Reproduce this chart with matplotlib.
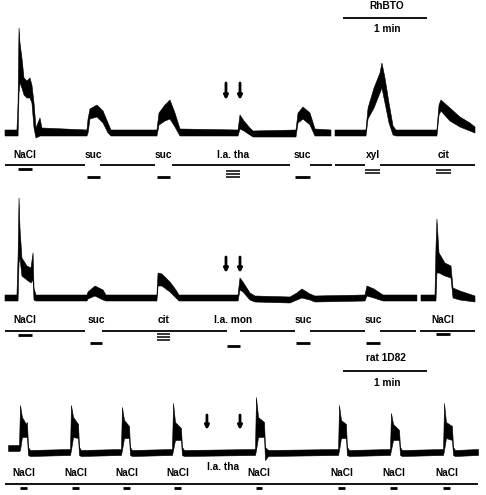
import numpy as np
import matplotlib
matplotlib.use('Agg')
import matplotlib.pyplot as plt

plt.rcParams['font.family'] = ['Liberation Sans', 'DejaVu Sans']
plt.rcParams['font.weight'] = 'bold'

FIG_W, FIG_H = 486, 495  # pixels at dpi 100

# ---- panel 1 : RhBTO, nerve response (time in s, response in arbitrary units) ----
t1 = [0, 8.6, 9.4, 10.1, 10.8, 12.2, 13.7, 15.8, 18.0, 19.4, 20.9, 22.3, 25.2, 26.6,
      59.0, 59.8, 61.2, 66.2, 70.6, 74.2, 76.3,
      109.4, 110.9, 115.2, 118.8, 122.4, 126.0,
      167.8, 169.2, 172.1, 176.4, 178.6,
      209.5, 211.0, 214.6, 219.6, 223.2, 234.7, 236.2, 237.6,
      259.9, 261.4, 265.7, 270.0, 271.4, 273.6, 276.5, 279.4, 281.5,
      311.0, 312.5, 313.9, 320.4, 327.6, 334.8, 338.4]
lo1 = [-3, -3, -3, 40, 50, 45, 38, 35, 35, 30, 5, -5, -3, -3,
       -3, 0, 14, 16, 10, 0, -3,
       -3, 8, 12, 14, 6, -3,
       -3, 4, 2, -2, -4,
       -4, 10, 14, 8, -3, -3, np.nan, -3,
       -3, 14, 25, 40, 45, 30, 10, -2, -3,
       -3, 18, 22, 12, 6, 2, 0]
hi1 = [3, 3, 30, 105, 90, 75, 55, 52, 55, 48, 30, 5, 15, 5,
       3, 14, 24, 28, 22, 10, 3,
       3, 20, 28, 33, 20, 4,
       3, 18, 12, 5, 2,
       3, 20, 26, 20, 4, 3, np.nan, 3,
       3, 25, 45, 60, 70, 55, 30, 7, 3,
       3, 28, 33, 25, 16, 10, 6]
stim1_labels = ['NaCl', 'suc', 'suc', 'l.a. tha', 'suc', 'xyl', 'cit']
stim1_on = [9.4, 59.0, 109.4, 159.1, 208.8, 259.2, 310.3]
stim1_off = [19.4, 68.4, 118.8, 169.2, 219.6, 270.0, 321.1]
stim1_nbars = [1, 1, 1, 3, 1, 2, 2]
marker1 = [(0, 57.6), (68.4, 108.0), (120.2, 205.2), (219.6, 235.4), (237.6, 259.2), (270.0, 338.4)]
arrows1 = [159.1, 169.2]

# ---- panel 2 ----
t2 = [0, 8.6, 9.4, 10.1, 10.8, 12.2, 15.8, 18.7, 20.2, 20.9, 22.3,
      59.0, 59.8, 64.8, 70.6, 72.7,
      109.4, 110.2, 113.0, 118.8, 123.1, 125.3,
      167.8, 169.2, 171.4, 176.4, 180.0, 205.2,
      210.2, 213.8, 219.6, 223.2,
      259.2, 260.6, 265.7, 270.0, 272.2,
      296.6, 298.1, 299.5,
      309.6, 310.3, 311.0, 312.5, 316.8, 321.1, 322.6, 327.6, 338.4]
lo2 = [-3, -3, -3, 35, 40, 22, 18, 15, 18, -2, -3,
       -3, -1, 2, -2, -3,
       -3, 12, 12, 6, 0, -3,
       -3, 8, 6, -2, -4, -5,
       -2, 0, -2, -4,
       -3, 2, 0, -2, -3,
       -3, np.nan, -3,
       -3, -3, 25, 25, 22, 20, 0, -2, -4]
hi2 = [3, 3, 40, 100, 70, 40, 32, 30, 45, 10, 3,
       3, 6, 12, 8, 3,
       3, 25, 24, 16, 8, 3,
       3, 20, 16, 5, 2, 1,
       5, 9, 4, 2,
       3, 12, 9, 5, 3,
       3, np.nan, 3,
       3, 50, 79, 45, 35, 32, 10, 7, 2]
stim2_labels = ['NaCl', 'suc', 'cit', 'l.a. mon', 'suc', 'suc', 'NaCl']
stim2_on = [9.4, 61.2, 109.4, 159.8, 209.5, 259.9, 310.3]
stim2_off = [19.4, 69.8, 118.8, 169.2, 219.6, 270.0, 320.4]
stim2_nbars = [1, 1, 3, 1, 1, 1, 1]
marker2 = [(0, 57.6), (69.8, 159.8), (169.2, 208.8), (219.6, 259.2), (270.0, 295.9), (298.8, 338.4)]
arrows2 = [159.1, 169.2]

# ---- panel 3 : rat 1D82 ----
t3 = [2.2, 10.1, 10.8, 12.2, 15.1, 15.8, 16.6, 18.0,
      46.8, 47.5, 49.0, 52.6, 53.3, 54.7,
      83.5, 84.2, 85.7, 89.3, 90.0, 91.4,
      120.2, 121.0, 122.4, 126.7, 127.4, 128.9,
      180.0, 180.7, 182.2, 186.5, 187.2, 189.4,
      239.8, 240.5, 241.9, 245.5, 246.2, 247.7,
      277.2, 277.9, 279.4, 283.7, 284.4, 285.8,
      315.4, 316.1, 317.5, 321.8, 322.6, 324.0, 340.6]
lo3 = [1, 1, 2, 15, 15, 15, -3, -4,
       -3, 2, 15, 14, -3, -4,
       -3, 2, 14, 14, -3, -4,
       -3, 2, 12, 12, -3, -4,
       -3, 2, 15, 15, -8, -4,
       -3, 2, 14, 14, -3, -4,
       -3, 2, 12, 12, -3, -4,
       -3, 2, 14, 12, -3, -4, -3]
hi3 = [7, 7, 47, 35, 28, 30, 5, 2,
       3, 47, 35, 28, 5, 2,
       3, 45, 32, 26, 5, 2,
       3, 49, 30, 24, 5, 2,
       3, 55, 35, 30, 5, 2,
       3, 47, 32, 28, 5, 2,
       3, 39, 28, 22, 5, 2,
       3, 49, 30, 26, 5, 2, 3]
stim3_labels = ['NaCl', 'NaCl', 'NaCl', 'NaCl', 'l.a. tha', 'NaCl', 'NaCl', 'NaCl', 'NaCl']
stim3_on = [10.8, 48.2, 85.0, 121.7, 145.4, 180.7, 239.8, 277.2, 315.4]
stim3_off = [15.8, 53.3, 90.0, 126.7, 169.2, 185.0, 244.8, 282.2, 320.4]
stim3_nbars = [1, 1, 1, 1, 0, 1, 1, 1, 1]
marker3 = [(0, 340.6)]
arrows3 = [145.4, 169.2]

# layout (response units == pixels): bar levels, label heights, arrow spans
bar_level1 = [-36, -44, -44, -38, -44, -37, -37]
bar_level2 = [-37, -45, -36, -48, -45, -45, -36]
bar_level3 = [-36, -36, -36, -36, 0, -36, -36, -36, -36]
label_y3 = [-21, -21, -21, -21, -15, -21, -21, -21, -21]

TIME_PER_PX = 0.72
X0_PX = 5
FONT_SIZE = 7.3


def add_panel(top_px, bottom_px, baseline_px):
    """Axes spanning a strip of the figure; 1 response unit == 1 pixel."""
    ax = fig.add_axes([0, 1 - bottom_px / FIG_H, 1, (bottom_px - top_px) / FIG_H])
    ax.set_xlim(-X0_PX * TIME_PER_PX, (FIG_W - X0_PX) * TIME_PER_PX)
    ax.set_ylim(baseline_px - bottom_px, baseline_px - top_px)
    ax.axis('off')
    return ax


def draw_trace(ax, t, lo, hi):
    ax.fill_between(t, lo, hi, color='k', lw=0.4, edgecolor='k')


def draw_stimuli(ax, labels, on, off, nbars, levels, label_y, marker_y):
    for a, b in marker_y[1]:
        ax.plot([a, b], [marker_y[0]] * 2, color='k', lw=1.3, solid_capstyle='butt')
    for i, lab in enumerate(labels):
        mid = (on[i] + off[i]) / 2
        ly = label_y[i] if isinstance(label_y, list) else label_y
        ax.text(mid, ly, lab, ha='center', va='center', fontsize=FONT_SIZE, fontweight='bold')
        for k in range(nbars[i]):
            lw = 2.0 if nbars[i] == 1 else 1.1
            ax.plot([on[i], off[i]], [levels[i] - 3 * k] * 2, color='k', lw=lw,
                    solid_capstyle='butt')


def draw_arrows(ax, times, y_top, y_bot):
    for x in times:
        ax.annotate('', xy=(x, y_bot), xytext=(x, y_top),
                    arrowprops=dict(arrowstyle='-|>', lw=2.0, color='k', mutation_scale=6,
                                    shrinkA=0, shrinkB=0))


def draw_scalebar(ax, title, y_title, y_bar, y_min):
    start, length = 243.5, 60
    ax.plot([start, start + length], [y_bar, y_bar], color='k', lw=1.3, solid_capstyle='butt')
    ax.text(start + length / 2 + 1, y_title, title, ha='center', va='center',
            fontsize=FONT_SIZE, fontweight='bold')
    ax.text(start + length / 2 + 2, y_min, '1 min', ha='center', va='center',
            fontsize=FONT_SIZE, fontweight='bold')


fig = plt.figure(figsize=(FIG_W / 100, FIG_H / 100), dpi=100)

ax1 = add_panel(0, 185, 133)
draw_trace(ax1, t1, lo1, hi1)
draw_stimuli(ax1, stim1_labels, stim1_on, stim1_off, stim1_nbars, bar_level1, -22, (-32, marker1))
draw_arrows(ax1, arrows1, 50, 33)
draw_scalebar(ax1, 'RhBTO', 127, 115, 104)

ax2 = add_panel(185, 352, 298)
draw_trace(ax2, t2, lo2, hi2)
draw_stimuli(ax2, stim2_labels, stim2_on, stim2_off, stim2_nbars, bar_level2, -22, (-33, marker2))
draw_arrows(ax2, arrows2, 41, 25)

ax3 = add_panel(352, 495, 452)
draw_trace(ax3, t3, lo3, hi3)
draw_stimuli(ax3, stim3_labels, stim3_on, stim3_off, stim3_nbars, bar_level3, label_y3, (-32, marker3))
draw_arrows(ax3, arrows3, 37, 22)
draw_scalebar(ax3, 'rat 1D82', 94, 81, 69)

fig.savefig('out.png', dpi=100)
